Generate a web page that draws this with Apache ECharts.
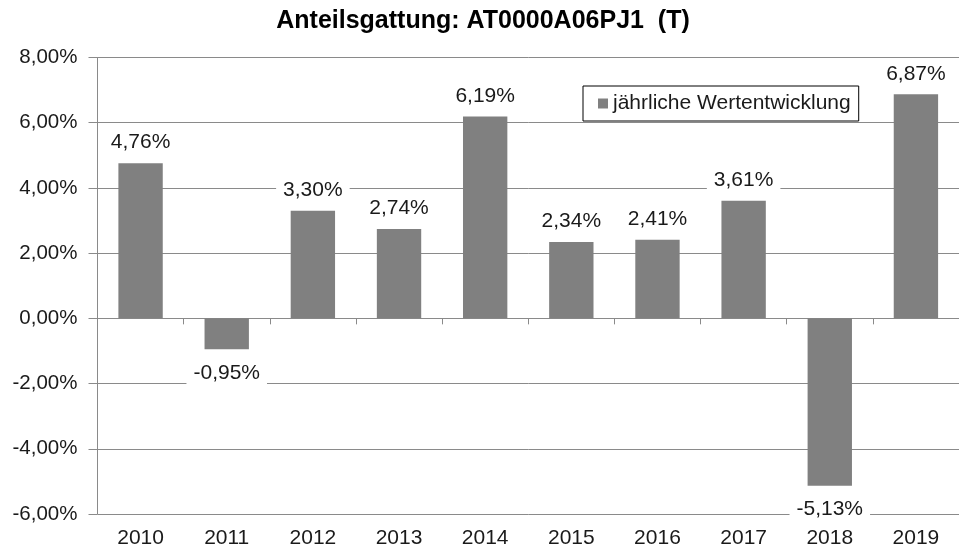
<!DOCTYPE html>
<html>
<head>
<meta charset="utf-8">
<script src="https://cdn.jsdelivr.net/npm/echarts@6/dist/echarts.min.js"></script>
<style>
html,body{margin:0;padding:0;background:#fff;}
#chart{width:959px;height:549px;}
</style>
</head>
<body>
<div id="chart"></div>
<script>
const categories = ['2010','2011','2012','2013','2014','2015','2016','2017','2018','2019'];
const values = [4.76, -0.95, 3.30, 2.74, 6.19, 2.34, 2.41, 3.61, -5.13, 6.87];
const seriesName = 'jährliche Wertentwicklung';
const titleText = 'Anteilsgattung: AT0000A06PJ1  (T)';

const FONT = '"Liberation Sans", Arial, sans-serif';
const fmt = v => v.toFixed(2).replace('.', ',') + '%';

const chart = echarts.init(document.getElementById('chart'), null, {renderer:'canvas'});
chart.setOption({
  backgroundColor: '#ffffff',
  animation: false,
  title: {
    text: titleText,
    left: 478,
    textAlign: 'center',
    top: 4,
    textStyle: {fontFamily: FONT, fontSize: 25, fontWeight: 'bold', color: '#000'}
  },
  legend: {
    left: 583,
    top: 86,
    orient: 'horizontal',
    icon: 'rect',
    itemWidth: 10,
    itemHeight: 10,
    borderColor: '#000',
    borderWidth: 1,
    padding: [7, 8, 7, 15],
    textStyle: {fontFamily: FONT, fontSize: 21, color: '#1a1a1a'},
    data: [seriesName]
  },
  grid: {left: 97.5, top: 57.5, width: 873, height: 458.2, containLabel: false},
  xAxis: [
    {
      type: 'category',
      data: categories,
      position: 'bottom',
      axisLine: {show: false, onZero: false},
      axisTick: {show: false},
      axisLabel: {margin: 14, fontFamily: FONT, fontSize: 21, color: '#1a1a1a'},
      splitLine: {show: false}
    },
    {
      type: 'category',
      data: categories,
      position: 'top',
      axisLine: {show: true, onZero: true, lineStyle: {color: '#8a8a8a', width: 1}},
      axisTick: {show: true, inside: true, length: 6, lineStyle: {color: '#8a8a8a'}},
      axisLabel: {show: false},
      splitLine: {show: false}
    }
  ],
  yAxis: {
    type: 'value',
    min: -6,
    max: 8,
    interval: 2,
    axisLine: {show: true, lineStyle: {color: '#8a8a8a', width: 1}},
    axisTick: {show: true, length: 9, lineStyle: {color: '#8a8a8a'}},
    axisLabel: {margin: 20, fontFamily: FONT, fontSize: 20.5, color: '#1a1a1a', formatter: v => fmt(v)},
    splitLine: {show: true, lineStyle: {color: '#8a8a8a', width: 1}}
  },
  series: [{
    name: seriesName,
    type: 'bar',
    xAxisIndex: 0,
    barWidth: '51.5%',
    itemStyle: {color: '#808080'},
    label: {
      show: true,
      position: 'top',
      distance: 7,
      fontFamily: FONT,
      fontSize: 21,
      color: '#1a1a1a',
      backgroundColor: '#ffffff',
      padding: [3, 7, 3, 7],
      formatter: p => fmt(p.value)
    },
    data: values.map(v => v < 0 ? {value: v, label: {position: 'bottom', distance: 10}} : v)
  }]
});
</script>
</body>
</html>
